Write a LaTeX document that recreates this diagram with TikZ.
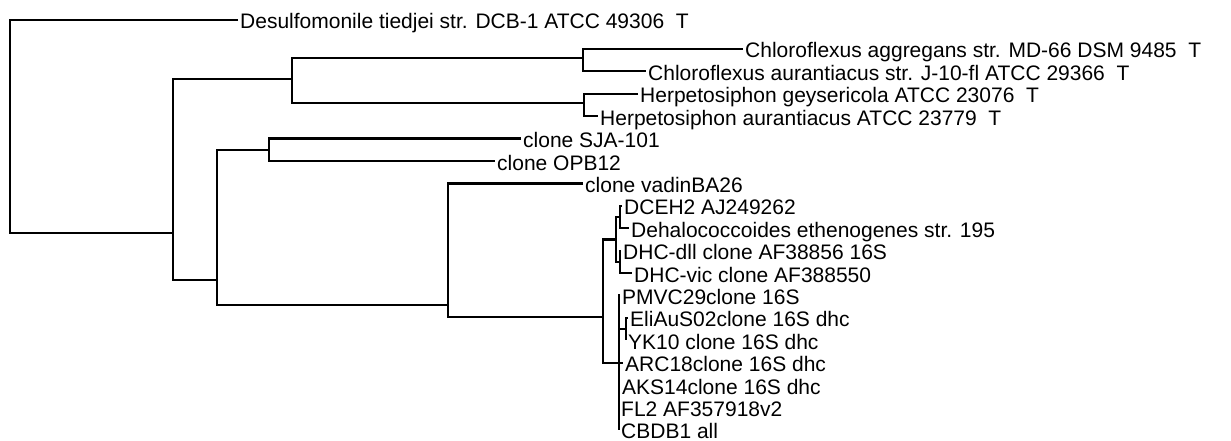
\documentclass[tikz,border=0pt]{standalone}
\usepackage{fontspec}
\setmainfont{Liberation Sans}
\begin{document}
\begin{tikzpicture}[x=1pt,y=-1pt,
  branch/.style={line width=2.2pt,line join=miter},
  taxon/.style={anchor=west,inner xsep=2pt,inner ysep=0pt,text height=18pt,text depth=0pt,font=\fontsize{21}{22}\selectfont}]
\useasboundingbox (0,0) rectangle (1231,441);
% leaves
\node[taxon] (desulfo) at (238,20) {Desulfomonile tiedjei str. DCB-1 ATCC 49306~ T};
\node[taxon] (caggr) at (743,49) {Chloroflexus aggregans str. MD-66 DSM 9485~ T};
\node[taxon] (caur) at (646,71.4) {Chloroflexus aurantiacus str. J-10-fl ATCC 29366~ T};
\node[taxon] (hgey) at (638,93.8) {Herpetosiphon geysericola ATCC 23076~ T};
\node[taxon] (haur) at (598,116.2) {Herpetosiphon aurantiacus ATCC 23779~ T};
\node[taxon] (sja) at (521,138.6) {clone SJA-101};
\node[taxon] (opb) at (495,161) {clone OPB12};
\node[taxon] (vadin) at (583,183.4) {clone vadinBA26};
\node[taxon] (dceh) at (622,205.8) {DCEH2 AJ249262};
\node[taxon] (dehalo) at (629,228.2) {Dehalococcoides ethenogenes str. 195};
\node[taxon] (dll) at (621,250.6) {DHC-dll clone AF38856 16S};
\node[taxon] (vic) at (632,273) {DHC-vic clone AF388550};
\node[taxon] (pmvc) at (620,295.4) {PMVC29clone 16S};
\node[taxon] (eliau) at (628,317.8) {EliAuS02clone 16S dhc};
\node[taxon] (yk) at (626,340.2) {YK10 clone 16S dhc};
\node[taxon] (arc) at (623,362.6) {ARC18clone 16S dhc};
\node[taxon] (aks) at (620,385) {AKS14clone 16S dhc};
\node[taxon] (fl) at (619,407.4) {FL2 AF357918v2};
\node[taxon] (cbdb) at (619,429.8) {CBDB1 all};
% inner nodes
\coordinate (r) at (10,120);
\coordinate (n1) at (173,233);
\coordinate (n2) at (292,79);
\coordinate (c) at (583,58);
\coordinate (h) at (584,103);
\coordinate (n3) at (217,280);
\coordinate (n4) at (269,149.8);
\coordinate (n5) at (448,305);
\coordinate (d) at (603,317);
\coordinate (u) at (616,239.4);
\coordinate (p1) at (620,217);
\coordinate (p2) at (620,261.8);
\coordinate (l) at (619,362.6);
\coordinate (e) at (626,329);
% branches
\draw[branch] (desulfo.west) -| (r) |- (n1);
\draw[branch] (n2) -| (n1) |- (n3);
\draw[branch] (c) -| (n2) |- (h);
\draw[branch] (caggr.west) -| (c) |- (caur.west);
\draw[branch] (hgey.west) -| (h) |- (haur.west);
\draw[branch] (n4) -| (n3) |- (n5);
\draw[branch] (sja.west) -| (n4) |- (opb.west);
\draw[branch] (vadin.west) -| (n5) |- (d);
\draw[branch] (u) -| (d) |- (l);
\draw[branch] (p1) -| (u) |- (p2);
\draw[branch] (dceh.west) -| (p1) |- (dehalo.west);
\draw[branch] (dll.west) -| (p2) |- (vic.west);
\draw[branch] (pmvc.west) -| (l) |- (cbdb.west);
\foreach \k in {arc,aks,fl}
  \draw[branch] (l |- \k.west) -- (\k.west);
\draw[branch] (l |- e) -- (e);
\draw[branch] (eliau.west) -| (e) |- (yk.west);
\end{tikzpicture}
\end{document}
